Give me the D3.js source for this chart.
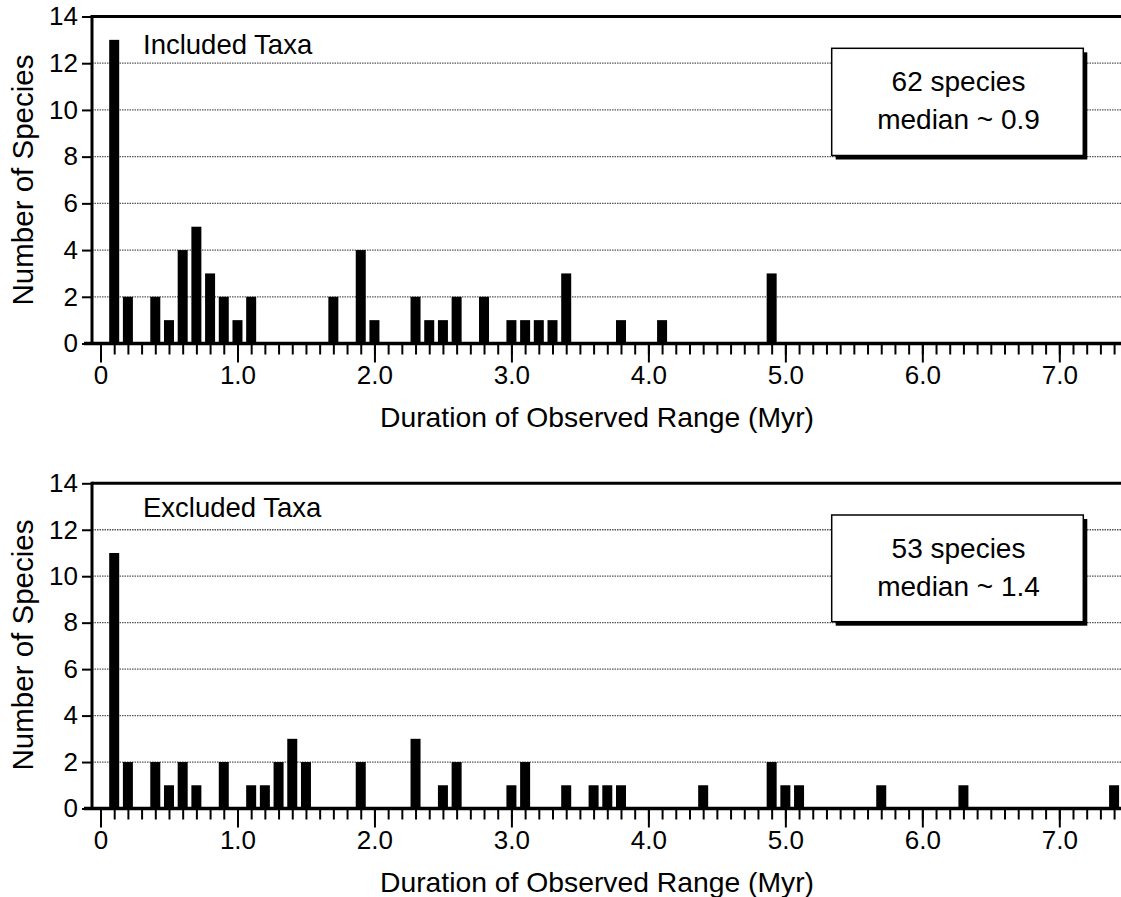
<!DOCTYPE html>
<html>
<head>
<meta charset="utf-8">
<script src="https://cdn.jsdelivr.net/npm/d3@7/dist/d3.min.js"></script>
<style>
  html, body { margin: 0; padding: 0; background: #fff; }
  svg { display: block; font-family: "Liberation Sans", Arial, Helvetica, sans-serif; }
</style>
</head>
<body>
<svg id="chart" width="1121" height="897"></svg>
<script>
// ---- Data ----
const includedDurations = [0.1,0.2,0.4,0.5,0.6,0.7,0.8,0.9,1.0,1.1,1.7,1.9,2.0,2.3,2.4,2.5,2.6,2.8,3.0,3.1,3.2,3.3,3.4,3.8,4.1,4.9];
const includedCounts    = [13, 2,  2,  1,  4,  5,  3,  2,  1,  2,  2,  4,  1,  2,  1,  1,  2,  2,  1,  1,  1,  1,  3,  1,  1,  3];
const excludedDurations = [0.1,0.2,0.4,0.5,0.6,0.7,0.9,1.1,1.2,1.3,1.4,1.5,1.9,2.3,2.5,2.6,3.0,3.1,3.4,3.6,3.7,3.8,4.4,4.9,5.0,5.1,5.7,6.3,7.4];
const excludedCounts    = [11, 2,  2,  1,  2,  1,  2,  1,  1,  2,  3,  2,  2,  3,  1,  2,  1,  2,  1,  1,  1,  1,  1,  2,  1,  1,  1,  1,  1];
const xMajorTicks = [0,1,2,3,4,5,6,7];
const xMajorLabels = ["0","1.0","2.0","3.0","4.0","5.0","6.0","7.0"];
const xMinorTicks = d3.range(0, 75).map(i => +(i/10).toFixed(1));
const yTicks = [0,2,4,6,8,10,12,14];
const panelNames = ["Included Taxa", "Excluded Taxa"];
const panelNotes = [["62 species", "median ~ 0.9"], ["53 species", "median ~ 1.4"]];
const xTitle = "Duration of Observed Range (Myr)";
const yTitle = "Number of Species";

// ---- Layout ----
const W = 1121;
const svg = d3.select("#chart");
const x = d3.scaleLinear().domain([0, 7]).range([100.5, 1059.3]);
const xLeft = x(-0.062);   // y-axis position
const xRight = W;

const panels = [
  { durs: includedDurations, counts: includedCounts, y0: 343.5, y14: 16.5, nameY: 54, titleY: 427, yTitleC: 180, box: [48.3, 155.5] },
  { durs: excludedDurations, counts: excludedCounts, y0: 808.5, y14: 483.3, nameY: 517, titleY: 892, yTitleC: 645, box: [515, 621.7] }
];

panels.forEach((p, pi) => {
  const y = d3.scaleLinear().domain([0, 14]).range([p.y0, p.y14]);
  const g = svg.append("g");

  // grid lines (dotted)
  g.selectAll("line.grid").data(yTicks.filter(t => t > 0 && t < 14)).enter()
    .append("line").attr("class", "grid")
    .attr("x1", xLeft).attr("x2", xRight)
    .attr("y1", d => y(d)).attr("y2", d => y(d))
    .attr("stroke", "#555").attr("stroke-width", 1.3)
    .attr("stroke-dasharray", "1.5,1");

  // top frame line
  g.append("line")
    .attr("x1", xLeft).attr("x2", xRight)
    .attr("y1", y(14)).attr("y2", y(14))
    .attr("stroke", "#000").attr("stroke-width", 3);

  // bars
  const bw = 10;
  g.selectAll("rect.bar").data(p.durs.map((d, i) => ({ d, c: p.counts[i] }))).enter()
    .append("rect").attr("class", "bar")
    .attr("x", d => x(d.d) - bw / 2)
    .attr("width", bw)
    .attr("y", d => y(d.c))
    .attr("height", d => y(0) - y(d.c))
    .attr("fill", "#000");

  // x axis: minor ticks
  const minorAx = g.append("g").attr("transform", `translate(0,${y(0)})`)
    .call(d3.axisBottom(x).tickValues(xMinorTicks).tickSize(11).tickFormat(""));
  minorAx.select(".domain").remove();
  minorAx.selectAll(".tick line").attr("stroke", "#000").attr("stroke-width", 2);

  // x axis: major ticks + labels
  const majorAx = g.append("g").attr("transform", `translate(0,${y(0)})`)
    .call(d3.axisBottom(x).tickValues(xMajorTicks).tickSize(19).tickPadding(3)
      .tickFormat((d, i) => xMajorLabels[i]));
  majorAx.select(".domain").remove();
  majorAx.selectAll(".tick line").attr("stroke", "#000").attr("stroke-width", 2);
  majorAx.selectAll(".tick text").attr("font-size", 26).attr("fill", "#000")
    .attr("font-family", "Liberation Sans, Arial, sans-serif");

  // x axis line
  g.append("line")
    .attr("x1", xLeft - 8).attr("x2", xRight)
    .attr("y1", y(0)).attr("y2", y(0))
    .attr("stroke", "#000").attr("stroke-width", 3.5);

  // y axis
  const yAx = g.append("g").attr("transform", `translate(${xLeft},0)`)
    .call(d3.axisLeft(y).tickValues(yTicks).tickSize(10).tickPadding(4));
  yAx.select(".domain").remove();
  yAx.selectAll(".tick line").attr("stroke", "#000").attr("stroke-width", 2);
  yAx.selectAll(".tick text").attr("font-size", 26).attr("fill", "#000")
    .attr("font-family", "Liberation Sans, Arial, sans-serif");
  g.append("line")
    .attr("x1", xLeft).attr("x2", xLeft)
    .attr("y1", y(14) - 1.5).attr("y2", y(0))
    .attr("stroke", "#000").attr("stroke-width", 3);

  // panel name
  g.append("text").attr("x", 143).attr("y", p.nameY)
    .attr("font-size", 27.5).attr("fill", "#000").text(panelNames[pi]);

  // note box with shadow
  const bx = 831.7, bw2 = 251.6, by = p.box[0], bh = p.box[1] - p.box[0];
  g.append("rect").attr("x", bx + 4).attr("y", by + 4).attr("width", bw2).attr("height", bh).attr("fill", "#000");
  g.append("rect").attr("x", bx).attr("y", by).attr("width", bw2).attr("height", bh)
    .attr("fill", "#fff").attr("stroke", "#000").attr("stroke-width", 1.5);
  g.append("text").attr("x", bx + bw2 / 2 + 1).attr("y", by + 42.5).attr("text-anchor", "middle")
    .attr("font-size", 28).attr("fill", "#000").text(panelNotes[pi][0]);
  g.append("text").attr("x", bx + bw2 / 2 + 1).attr("y", by + 81).attr("text-anchor", "middle")
    .attr("font-size", 28).attr("fill", "#000").text(panelNotes[pi][1]);

  // x title
  g.append("text").attr("x", 597).attr("y", p.titleY).attr("text-anchor", "middle")
    .attr("font-size", 28.3).attr("fill", "#000").text(xTitle);

  // y title
  g.append("text").attr("transform", `translate(33,${p.yTitleC}) rotate(-90)`)
    .attr("text-anchor", "middle").attr("font-size", 29.5).attr("fill", "#000").text(yTitle);
});
</script>
</body>
</html>
